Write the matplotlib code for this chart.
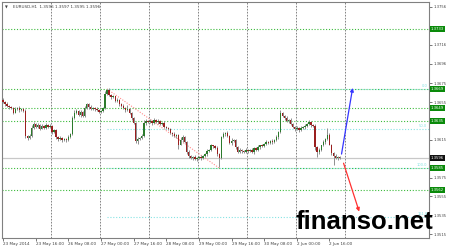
import numpy as np
import matplotlib
matplotlib.use("Agg")
import matplotlib.pyplot as plt
import matplotlib.transforms as mtransforms

# EURUSD H1, cierres (una vela por hora)
closes = [
    1.3655, 1.3653, 1.3651, 1.3650, 1.3649, 1.3644, 1.3648, 1.3649, 1.3647, 1.3648, 1.3646, 1.3619,
    1.3617, 1.3619, 1.3628, 1.3632, 1.3629, 1.3631, 1.3627, 1.3630, 1.3628, 1.3631, 1.3629, 1.3630,
    1.3623, 1.3625, 1.3618, 1.3616, 1.3617, 1.3615, 1.3616, 1.3615, 1.3618, 1.3621, 1.3638, 1.3644,
    1.3646, 1.3641, 1.3645, 1.3640, 1.3649, 1.3653, 1.3650, 1.3648, 1.3649, 1.3648, 1.3647, 1.3645,
    1.3646, 1.3649, 1.3664, 1.3668, 1.3663, 1.3660, 1.3661, 1.3656, 1.3657, 1.3653, 1.3651, 1.3649,
    1.3647, 1.3648, 1.3643, 1.3638, 1.3633, 1.3614, 1.3616, 1.3617, 1.3619, 1.3633, 1.3635, 1.3634,
    1.3635, 1.3633, 1.3636, 1.3634, 1.3635, 1.3632, 1.3633, 1.3629, 1.3628, 1.3626, 1.3622, 1.3621,
    1.3619, 1.3620, 1.3610, 1.3615, 1.3618, 1.3613, 1.3602, 1.3598, 1.3596, 1.3597, 1.3595, 1.3596,
    1.3597, 1.3596, 1.3598, 1.3600, 1.3603, 1.3604, 1.3609, 1.3608, 1.3606, 1.3600, 1.3596, 1.3618,
    1.3621, 1.3622, 1.3619, 1.3612, 1.3614, 1.3615, 1.3607, 1.3602, 1.3604, 1.3603, 1.3602, 1.3604,
    1.3603, 1.3604, 1.3602, 1.3606, 1.3604, 1.3607, 1.3609, 1.3608, 1.3611, 1.3613, 1.3612, 1.3614,
    1.3613, 1.3615, 1.3618, 1.3623, 1.3643, 1.3640, 1.3638, 1.3635, 1.3636, 1.3632, 1.3629, 1.3626,
    1.3628, 1.3625, 1.3628, 1.3629, 1.3630, 1.3632, 1.3634, 1.3631, 1.3630, 1.3607, 1.3602, 1.3604,
    1.3609, 1.3613, 1.3616, 1.3620, 1.3610, 1.3601, 1.3598, 1.3596, 1.3597, 1.3596,
]
first_open = 1.3657

# mechas en pips (arriba / abajo)
wick_up = [
    2, 1, 2, 1, 1, 1, 2, 1, 2, 1, 1, 2, 1, 2, 3, 2, 1, 2, 1, 2, 1, 2, 1, 2,
    1, 2, 1, 1, 2, 1, 1, 1, 2, 1, 2, 3, 2, 1, 2, 1, 2, 1, 1, 2, 1, 1, 2, 1,
    1, 1, 3, 1, 2, 1, 2, 1, 2, 1, 1, 2, 1, 4, 1, 2, 1, 1, 2, 1, 2, 3, 2, 1,
    2, 1, 2, 1, 2, 1, 1, 2, 1, 1, 2, 1, 2, 1, 1, 3, 2, 1, 1, 2, 1, 1, 2, 1,
    1, 2, 1, 1, 2, 1, 2, 1, 1, 2, 1, 1, 2, 1, 2, 1, 3, 1, 1, 1, 2, 1, 1, 2,
    1, 1, 2, 1, 1, 2, 1, 2, 1, 2, 1, 1, 2, 1, 2, 1, 4, 2, 1, 2, 1, 2, 1, 1,
    2, 1, 2, 1, 2, 1, 2, 1, 1, 2, 1, 2, 1, 2, 1, 8, 2, 1, 1, 2, 1, 1,
]
wick_dn = [
    1, 2, 1, 2, 1, 2, 1, 1, 2, 1, 1, 2, 2, 1, 1, 2, 1, 1, 2, 1, 1, 2, 1, 1,
    2, 1, 2, 2, 1, 2, 1, 2, 1, 1, 1, 1, 2, 1, 2, 1, 1, 1, 2, 1, 1, 2, 1, 1,
    2, 1, 1, 1, 1, 2, 1, 1, 1, 2, 1, 1, 2, 1, 1, 2, 1, 2, 3, 1, 1, 1, 2, 1,
    1, 2, 1, 1, 2, 1, 1, 1, 2, 1, 1, 2, 1, 2, 5, 1, 2, 1, 2, 2, 1, 2, 1, 2,
    1, 2, 1, 1, 2, 1, 1, 2, 1, 2, 10, 1, 1, 2, 1, 1, 2, 1, 2, 1, 1, 2, 1, 1,
    2, 1, 1, 2, 1, 1, 2, 1, 1, 2, 1, 1, 2, 1, 1, 2, 1, 1, 2, 1, 2, 1, 1, 2,
    1, 2, 1, 1, 2, 1, 1, 2, 1, 3, 5, 2, 1, 1, 2, 1, 1, 2, 10, 1, 2, 1,
]

x_labels = ['23 May 2014', '23 May 16:00', '26 May 08:00', '27 May 00:00', '27 May 16:00',
            '28 May 08:00', '29 May 00:00', '29 May 16:00', '30 May 08:00', '2 Jun 00:00',
            '2 Jun 16:00']
y_ticks = [1.3756, 1.3716, 1.3696, 1.3675, 1.3655, 1.3615, 1.3575, 1.3555, 1.3535, 1.3515]

green_levels = [1.3733, 1.3669, 1.3649, 1.3635, 1.3585, 1.3562]
bid = 1.3596

# fibo: del maximo (1.3669) al minimo (1.3585)
fib_names = ['0.0', '50.0', '100.0', '161.8']
fib_prices = [1.3669, 1.3627, 1.3585, 1.3533]
fib_start_bar = 51
fib_end_bar = 106

header = 'EURUSD,H1  1.3596 1.3597 1.3595 1.3596'

# ---------------------------------------------------------------
n = len(closes)
opens = [first_open] + closes[:-1]
idx = np.arange(n)
o = np.array(opens)
c = np.array(closes)
hi = np.maximum(o, c) + np.array(wick_up) * 0.0001
lo = np.minimum(o, c) - np.array(wick_dn) * 0.0001

fig = plt.figure(figsize=(4.5, 2.5), dpi=100)
fig.patch.set_facecolor('white')
ax = fig.add_axes([2 / 450, 12 / 250, 427 / 450, 236 / 250])
ax.set_xlim(-0.5, 208.8)
ax.set_ylim(1.35108, 1.37613)

# grilla vertical cada 24 velas
for k in range(1, 8):
    ax.axvline(24 * k - 0.5, color='#707070', lw=0.6, ls=(0, (2, 1.6)), zorder=1)

# niveles verdes
for lv in green_levels:
    ax.axhline(lv, color='#3dbb3d', lw=0.8, ls=(0, (1, 1.6)), zorder=1)

ax.axhline(bid, color='#c8c8c8', lw=0.9, zorder=1)

# fibo
for name, p in zip(fib_names, fib_prices):
    ax.plot([fib_start_bar, 208.8], [p, p], color='#86e3e3', lw=0.8, ls=(0, (1, 1.6)), zorder=2)
    ax.text(0.996, p + 0.00008, name, transform=mtransforms.blended_transform_factory(ax.transAxes, ax.transData),
            fontsize=2.6, color='#86e3e3', ha='right', va='bottom')
ax.plot([fib_start_bar, fib_end_bar], [fib_prices[0], fib_prices[2]], color='#ff8a8a', lw=0.8,
        ls=(0, (1, 1.4)), zorder=2)

# velas
ax.vlines(idx, lo, hi, color='#8f8f8f', lw=0.7, zorder=3)
colores = ['#2c7a2c' if cc >= oo else '#9a1f1f' for oo, cc in zip(o, c)]
alto = np.maximum(np.abs(c - o), 0.00006)
ax.bar(idx, alto, bottom=np.minimum(o, c), width=0.7, color=colores, linewidth=0, zorder=4)

# flechas
ax.annotate('', xy=(171.6, 1.3673), xytext=(165.7, 1.3597),
            arrowprops=dict(arrowstyle='-|>', color='#3535ff', lw=0.9, mutation_scale=5), zorder=5)
ax.annotate('', xy=(175.0, 1.3536), xytext=(166.5, 1.3593),
            arrowprops=dict(arrowstyle='-|>', color='#ff3030', lw=0.9, mutation_scale=5), zorder=5)

# ejes
for s in ax.spines.values():
    s.set_color('#808080')
    s.set_linewidth(0.8)
ax.yaxis.tick_right()
ax.set_yticks(y_ticks)
ax.set_yticklabels(['%.4f' % v for v in y_ticks])
ax.tick_params(axis='y', labelsize=2.7, length=2, width=0.5, colors='#404040', pad=1)
ax.set_xticks([16 * k for k in range(len(x_labels))])
ax.set_xticklabels(x_labels)
ax.tick_params(axis='x', labelsize=3.0, length=2, width=0.5, colors='#404040', pad=1)
for t in ax.get_xticklabels():
    t.set_horizontalalignment('left')

# cajas de precio en el eje derecho
blend = mtransforms.blended_transform_factory(ax.transAxes, ax.transData)
for lv in green_levels:
    ax.text(1.004, lv, '%.4f' % lv, transform=blend, fontsize=2.7, color='white', ha='left',
            va='center', bbox=dict(boxstyle='square,pad=0.25', fc='#0a8a0a', ec='none'), clip_on=False)
ax.text(1.004, bid, '%.4f' % bid, transform=blend, fontsize=2.7, color='white', ha='left',
        va='center', bbox=dict(boxstyle='square,pad=0.25', fc='#111111', ec='none'), clip_on=False)

# encabezado
ax.text(0.006, 0.985, '\u25bc', transform=ax.transAxes, fontsize=2.6, color='#404040', ha='left', va='top')
ax.text(0.025, 0.988, header, transform=ax.transAxes, fontsize=3.0, color='#404040', ha='left', va='top')

# marca de agua
fig.text(295 / 450, 1 - 229 / 250, 'finanso.net', fontsize=18.5, fontweight='bold',
         family='Liberation Sans', color='black', ha='left', va='baseline')

fig.savefig('out.png', dpi=100, facecolor='white')
